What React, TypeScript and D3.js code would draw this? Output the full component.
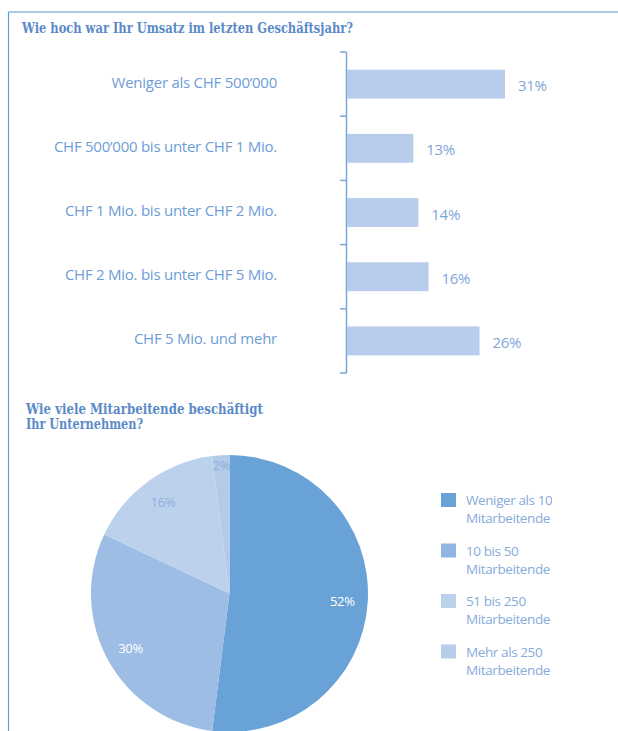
import React from "react";
import * as d3 from "d3";

const barTitle = "Wie hoch war Ihr Umsatz im letzten Geschäftsjahr?";
const barCategories = [
  "Weniger als CHF 500’000",
  "CHF 500’000 bis unter CHF 1 Mio.",
  "CHF 1 Mio. bis unter CHF 2 Mio.",
  "CHF 2 Mio. bis unter CHF 5 Mio.",
  "CHF 5 Mio. und mehr",
];
const barValues = [31, 13, 14, 16, 26];

const pieTitle = ["Wie viele Mitarbeitende beschäftigt", "Ihr Unternehmen?"];
const pieLegend = [
  ["Weniger als 10", "Mitarbeitende"],
  ["10 bis 50", "Mitarbeitende"],
  ["51 bis 250", "Mitarbeitende"],
  ["Mehr als 250", "Mitarbeitende"],
];
const pieValues = [52, 30, 16, 2];
const pieColors = ["#68a2d6", "#9dbde4", "#bcd1ec", "#b3cae9"];
const legendColors = ["#68a2d6", "#8fb5e0", "#bcd1ec", "#b8cdea"];
const pieLabelColors = ["#ffffff", "#ffffff", "#8fb0dd", "#8fb0dd"];

const TEXT = "#6e9dd6";
const TITLE = "#5a8ac8";
const BODY_FONT = "'Open Sans', sans-serif";
const TITLE_FONT = "'DejaVu Serif', serif";

export default function App() {
  const x = d3.scaleLinear().domain([0, 31]).range([347, 505]);
  const y = d3
    .scaleBand<string>()
    .domain(barCategories)
    .range([52, 373])
    .paddingInner(0.55)
    .paddingOuter(0.275);
  const step = y.step();
  const ticks = d3.range(barCategories.length + 1).map((i) => 52 + i * step);

  const cx = 229.5;
  const cy = 593.5;
  const R = 138.5;
  const pie = d3.pie<number>().sort(null).value((d) => d)(pieValues);
  const arc = d3.arc<d3.PieArcDatum<number>>().innerRadius(0).outerRadius(R);

  return (
    <svg
      width={618}
      height={731}
      style={{ position: "absolute", left: 0, top: 0, background: "#fff" }}
    >
      <defs>
        <clipPath id="rightClip">
          <rect x={0} y={0} width={552} height={731} />
        </clipPath>
      </defs>
      {/* frame */}
      <line x1={8.5} y1={12} x2={618} y2={12} stroke="#5b9ad6" strokeWidth={1.2} />
      <line x1={8.5} y1={12} x2={8.5} y2={731} stroke="#5b9ad6" strokeWidth={1.2} />

      {/* bar chart title */}
      <text
        x={22}
        y={33}
        fontFamily={TITLE_FONT}
        fontWeight="bold"
        fontSize={14}
        fill={TITLE}
        textLength={331}
        lengthAdjust="spacingAndGlyphs"
      >
        {barTitle}
      </text>

      <g clipPath="url(#rightClip)">
        {/* axis */}
        <line x1={346.5} y1={52} x2={346.5} y2={373} stroke="#7aa6da" strokeWidth={1.5} />
        {ticks.map((t, i) => (
          <line key={i} x1={340} y1={t} x2={346.5} y2={t} stroke="#7aa6da" strokeWidth={1.5} />
        ))}
        {barCategories.map((c, i) => {
          const yy = y(c)!;
          const bw = y.bandwidth();
          return (
            <g key={c}>
              <rect x={x(0)} y={yy} width={x(barValues[i]) - x(0)} height={bw} fill="#b7cdeb" />
              <text
                x={277}
                y={yy + bw / 2 - 2.5}
                textAnchor="end"
                dominantBaseline="central"
                fontFamily={BODY_FONT}
                fontSize={15}
                letterSpacing={-0.25}
                fill={TEXT}
              >
                {c}
              </text>
              <text
                x={x(barValues[i]) + 13}
                y={yy + bw / 2 + 1}
                dominantBaseline="central"
                fontFamily={BODY_FONT}
                fontSize={15}
                letterSpacing={-0.3}
                fill="#7fa6d8"
              >
                {barValues[i]}%
              </text>
            </g>
          );
        })}
      </g>

      {/* pie title */}
      {pieTitle.map((t, i) => (
        <text
          key={i}
          x={26}
          y={414 + i * 15}
          fontFamily={TITLE_FONT}
          fontWeight="bold"
          fontSize={14}
          fill={TITLE}
          textLength={i === 0 ? 237 : 117}
          lengthAdjust="spacingAndGlyphs"
        >
          {t}
        </text>
      ))}

      {/* pie */}
      <g transform={`translate(${cx},${cy})`}>
        {pie.map((p, i) => (
          <path key={i} d={arc(p)!} fill={pieColors[i]} />
        ))}
        {pie.map((p, i) => {
          const mid = (p.startAngle + p.endAngle) / 2;
          const r = p.endAngle - p.startAngle < 0.2 ? 129 : 113;
          return (
            <text
              key={"l" + i}
              x={Math.sin(mid) * r}
              y={-Math.cos(mid) * r}
              textAnchor="middle"
              dominantBaseline="central"
              fontFamily={BODY_FONT}
              fontSize={13}
              letterSpacing={-0.3}
              fill={pieLabelColors[i]}
            >
              {pieValues[i]}%
            </text>
          );
        })}
      </g>

      {/* legend */}
      <g clipPath="url(#rightClip)">
        {pieLegend.map((lines, i) => {
          const top = 493 + i * 50.5;
          return (
            <g key={i}>
              <rect x={441} y={top} width={15} height={14} fill={legendColors[i]} />
              {lines.map((l, j) => (
                <text
                  key={j}
                  x={466}
                  y={top + 7 + j * 18}
                  dominantBaseline="central"
                  fontFamily={BODY_FONT}
                  fontSize={13.5}
                  letterSpacing={-0.4}
                  fill="#86abdc"
                >
                  {l}
                </text>
              ))}
            </g>
          );
        })}
      </g>
    </svg>
  );
}
